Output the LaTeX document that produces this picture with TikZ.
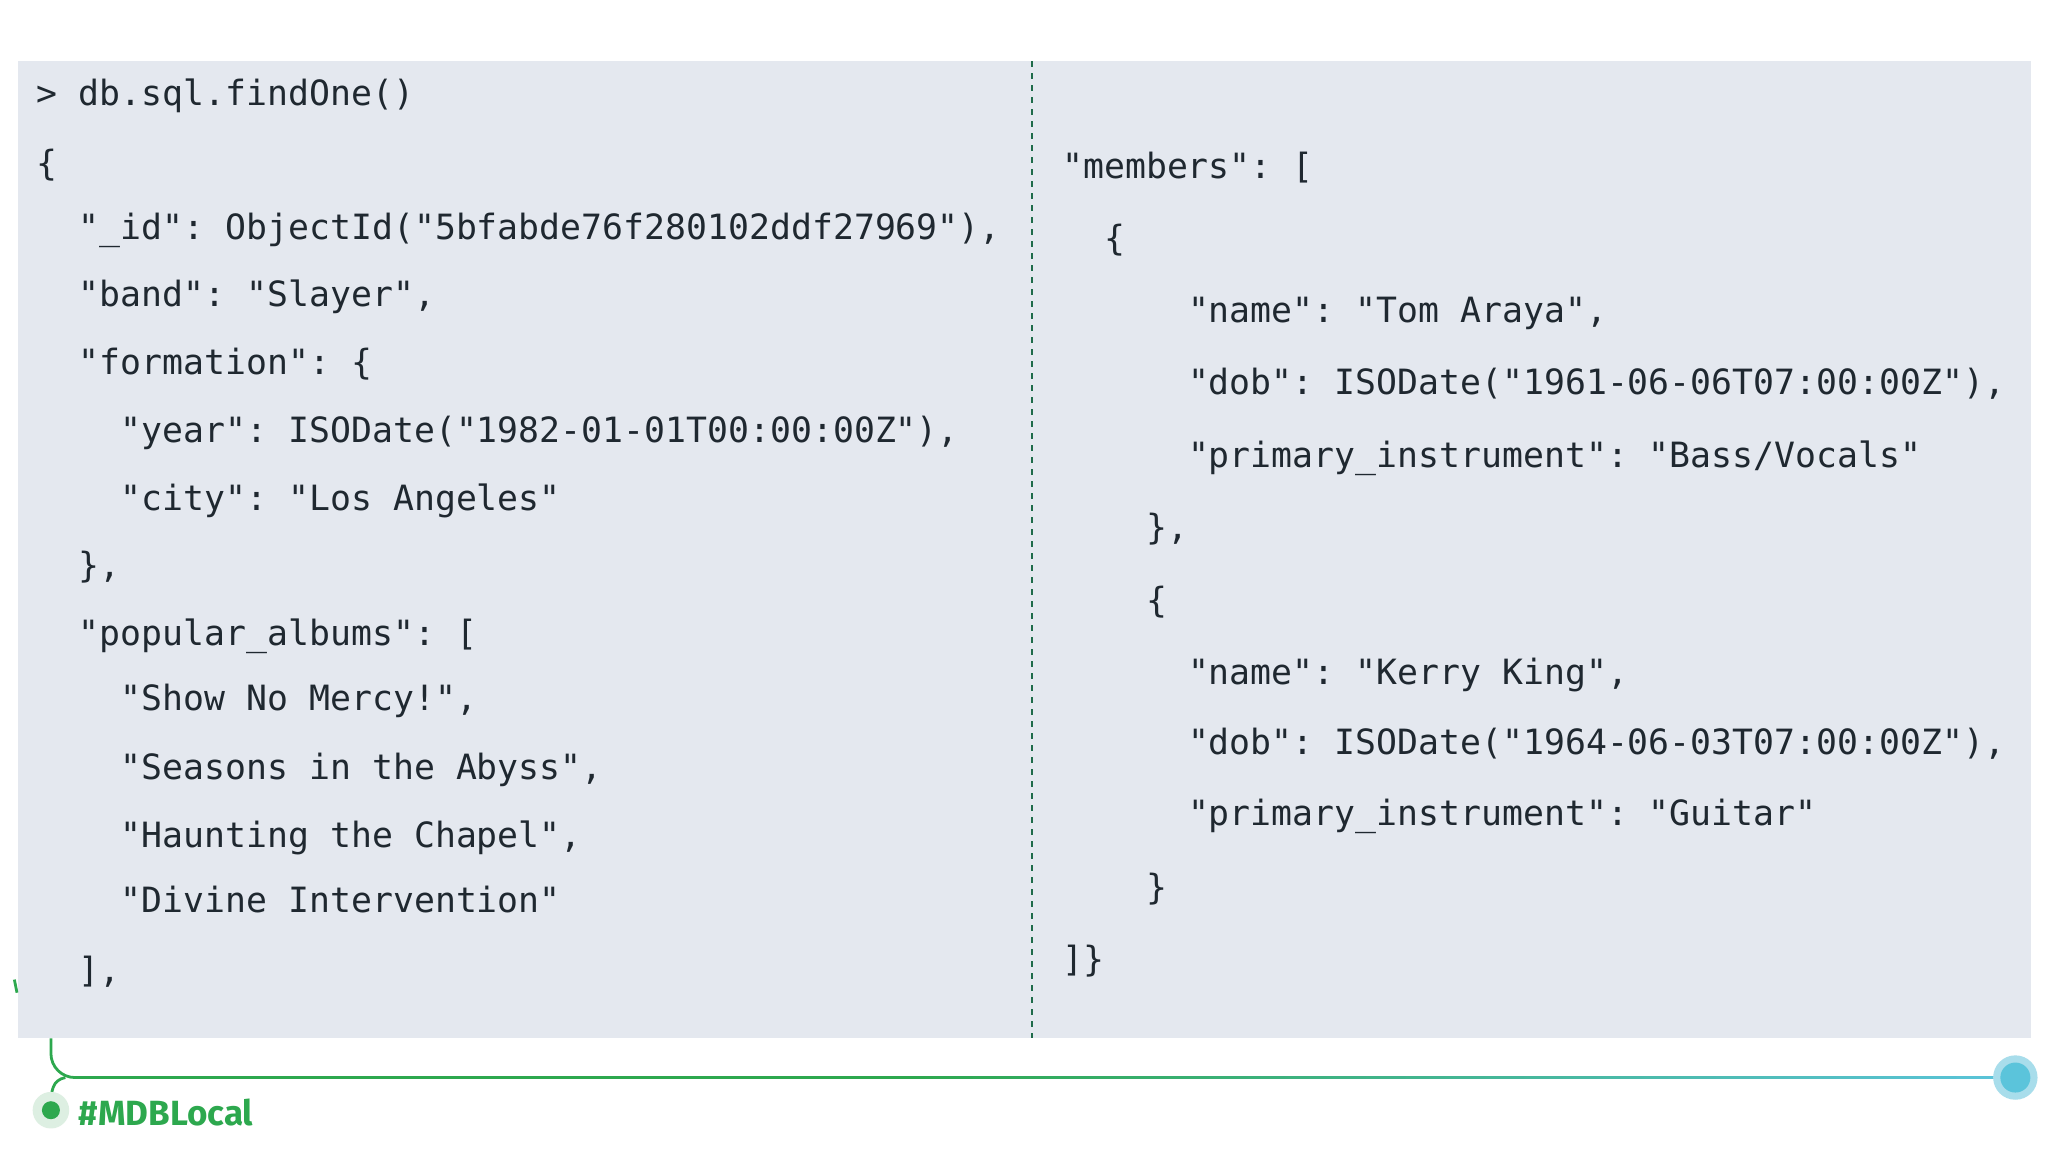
\documentclass[tikz,border=0pt]{standalone}
\usepackage{fontspec}
\setmonofont{DejaVu Sans Mono}
\setsansfont{Fira Sans}
\definecolor{panel}{HTML}{E4E8EF}
\definecolor{ink}{HTML}{1F2830}
\definecolor{mgreen}{HTML}{2DA84E}
\definecolor{dgreen}{HTML}{1F6B4A}
\definecolor{mblue}{HTML}{5BC4DB}
\definecolor{lblue}{HTML}{A8DDEB}
\definecolor{lgreen}{HTML}{DDEFE2}
\begin{document}
\begin{tikzpicture}[x=0.653pt,y=-0.653pt,
  code/.style={anchor=base west,inner sep=0pt,text=ink,font=\ttfamily\fontsize{17.4}{20}\selectfont}]
\useasboundingbox (0,0) rectangle (1568,882);
\fill[white] (0,0) rectangle (1568,882);
\fill[panel] (14,47) rectangle (1555,795);
\draw[dgreen,dashed,line width=1pt] (790,47) -- (790,795);
% left column
\foreach \t/\y [count=\i] in {
{> db.sql.findOne()}/72,
{\{}/125,
{\ \ "\_id": ObjectId("5bfabde76f280102ddf27969"),}/174,
{\ \ "band": "Slayer",}/226,
{\ \ "formation": \{}/278,
{\ \ \ \ "year": ISODate("1982-01-01T00:00:00Z"),}/330,
{\ \ \ \ "city": "Los Angeles"}/382,
{\ \ \},}/433,
{\ \ "popular\_albums": [}/485,
{\ \ \ \ "Show No Mercy!",}/535,
{\ \ \ \ "Seasons in the Abyss",}/588,
{\ \ \ \ "Haunting the Chapel",}/640,
{\ \ \ \ "Divine Intervention"}/690,
{\ \ ],}/743}
  \node[code] (l\i) at (28,\y+9) {\t};
% right column
\foreach \t/\y [count=\i] in {
{"members": [}/128,
{\ \ \{}/183,
{\ \ \ \ \ \ "name": "Tom Araya",}/238,
{\ \ \ \ \ \ "dob": ISODate("1961-06-06T07:00:00Z"),}/293,
{\ \ \ \ \ \ "primary\_instrument": "Bass/Vocals"}/349,
{\ \ \ \ \},}/404,
{\ \ \ \ \{}/460,
{\ \ \ \ \ \ "name": "Kerry King",}/515,
{\ \ \ \ \ \ "dob": ISODate("1964-06-03T07:00:00Z"),}/569,
{\ \ \ \ \ \ "primary\_instrument": "Guitar"}/623,
{\ \ \ \ \}}/680,
{]\}}/735}
  \node[code] (r\i) at (813,\y+9) {\t};
% footer line
\coordinate (top) at (39,795);
\coordinate (rt) at (1543,825);
\draw[mgreen,line width=1.4pt,rounded corners=12] (top) -- (39,825) -- (700,825);
\shade[left color=mgreen,right color=mblue] (699,823.9) rectangle (1543,826.1);
\draw[mgreen,line width=1.4pt] (50,825) .. controls (40,827) and (39,835) .. (39,848);
\fill[lgreen] (39,850) circle (14);
\node[circle,fill=mgreen,inner sep=0pt,minimum size=9pt] (ld) at (39,850) {};
\fill[lblue] (rt) circle (17);
\node[circle,fill=mblue,inner sep=0pt,minimum size=15pt] (rd) at (rt) {};
\node[anchor=west,inner sep=0pt,text=mgreen,font=\sffamily\bfseries\fontsize{17.5}{20}\selectfont] (tag) at (60,852) {\#MDBLocal};
\draw[mgreen,line width=1.4pt] (11,750) -- (13,760);
\end{tikzpicture}
\end{document}
